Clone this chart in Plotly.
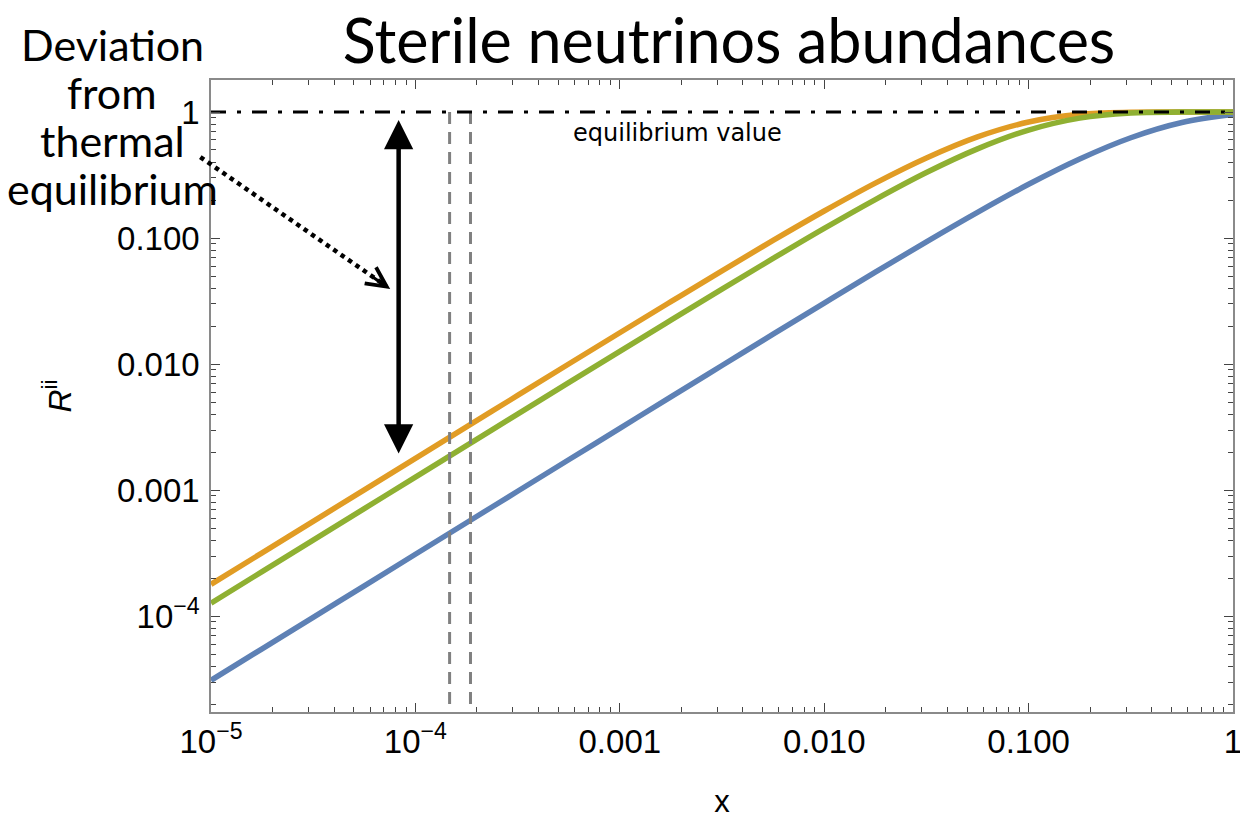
import plotly.graph_objects as go

# ---- data ----
x_vals = [1e-5, 1.778e-5, 3.162e-5, 5.623e-5, 1e-4, 1.778e-4, 3.162e-4, 5.623e-4,
          1e-3, 1.778e-3, 3.162e-3, 5.623e-3, 0.01, 0.01778, 0.03162, 0.05623,
          0.1, 0.1778, 0.3162, 0.5623, 1.0]

r_blue = [3.1e-5, 5.51e-5, 9.80e-5, 1.743e-4, 3.10e-4, 5.51e-4, 9.80e-4, 1.742e-3,
          3.095e-3, 5.50e-3, 9.75e-3, 0.01728, 0.0305, 0.0536, 0.0934, 0.160,
          0.267, 0.424, 0.625, 0.825, 0.955]

r_orange = [1.79e-4, 3.18e-4, 5.66e-4, 1.006e-3, 1.788e-3, 3.178e-3, 5.64e-3, 0.01002,
            0.01774, 0.0313, 0.0550, 0.0958, 0.164, 0.273, 0.432, 0.635,
            0.833, 0.9585, 0.9965, 0.99996, 1.0]

r_green = [1.27e-4, 2.258e-4, 4.016e-4, 7.14e-4, 1.269e-3, 2.255e-3, 4.008e-3, 7.12e-3,
           0.01262, 0.02233, 0.0394, 0.0689, 0.1193, 0.202, 0.331, 0.510,
           0.719, 0.895, 0.982, 0.9992, 1.0]

equilibrium_x = [1e-5, 1.0]
equilibrium_y = [1.0, 1.0]

vline1_x = [1.47e-4, 1.47e-4]
vline2_x = [1.86e-4, 1.86e-4]
vline_y = [1.0, 1e-5]

x_tickvals = [1e-5, 1e-4, 1e-3, 1e-2, 1e-1, 1]
x_ticktext = ["10<sup>\u22125</sup>", "10<sup>\u22124</sup>", "0.001", "0.010", "0.100", "1"]
y_tickvals = [1e-4, 1e-3, 1e-2, 1e-1, 1]
y_ticktext = ["10<sup>\u22124</sup>", "0.001", "0.010", "0.100", "1"]

left_lines = ["Deviation", "from", "thermal", "equilibrium"]

BLUE = "#5E81B5"
ORANGE = "#E19C24"
GREEN = "#8FB032"

fig = go.Figure()
fig.add_trace(go.Scatter(x=x_vals, y=r_blue, mode="lines", line=dict(color=BLUE, width=5.5, shape="spline")))
fig.add_trace(go.Scatter(x=x_vals, y=r_orange, mode="lines", line=dict(color=ORANGE, width=5.5, shape="spline")))
fig.add_trace(go.Scatter(x=x_vals, y=r_green, mode="lines", line=dict(color=GREEN, width=5.5, shape="spline")))
fig.add_trace(go.Scatter(x=vline1_x, y=vline_y, mode="lines",
                         line=dict(color="#808080", width=3, dash="12px,8px")))
fig.add_trace(go.Scatter(x=vline2_x, y=vline_y, mode="lines",
                         line=dict(color="#808080", width=3, dash="12px,8px")))
fig.add_trace(go.Scatter(x=equilibrium_x, y=equilibrium_y, mode="lines",
                         line=dict(color="black", width=3, dash="15px,11px,4px,11px")))

axis_common = dict(
    type="log", showline=True, linecolor="#8a8a8a", linewidth=1.5, mirror="ticks",
    ticks="inside", ticklen=9, tickwidth=1.2, tickcolor="#444444",
    showgrid=False, zeroline=False, ticklabeloverflow="allow", automargin=False,
    tickfont=dict(family="Liberation Sans", size=33, color="black"),
    minor=dict(ticks="inside", ticklen=5, tickwidth=1.0, tickcolor="#444444",
               showgrid=False, dtick="D1"),
)

fig.update_xaxes(**axis_common, range=[-5, 0], tickvals=x_tickvals, ticktext=x_ticktext,
                 title=dict(text="x", font=dict(family="Liberation Sans", size=31, color="black"),
                            standoff=41))
fig.update_yaxes(**axis_common, range=[-4.76, 0.254], tickvals=y_tickvals, ticktext=y_ticktext,
                 ticklabelstandoff=3,
                 title=dict(text="<i>R</i><sup>ii</sup>", font=dict(family="Liberation Sans", size=32, color="black"),
                            standoff=36))

annotations = [
    # double-headed arrow
    dict(x=-4.082, y=-0.063, ax=-4.082, ay=-2.722, xref="x", yref="y", axref="x", ayref="y",
         text="", showarrow=True, arrowhead=2, startarrowhead=2, arrowside="end+start",
         arrowsize=1.3, startarrowsize=1.3, arrowwidth=4.5, arrowcolor="black"),
    # head of dotted arrow
    dict(x=(390 - 210.7) / 1022.6, y=(711.7 - 289) / 631.7, xref="paper", yref="paper",
         ax=-19, ay=-13.2, text="", showarrow=True, arrowhead=5, arrowsize=1.3,
         arrowwidth=3, arrowcolor="black"),
    dict(x=-2.719, y=-0.167, xref="x", yref="y", text="equilibrium value", showarrow=False,
         font=dict(family="DejaVu Sans", size=24, color="black")),
]
line_centres = [45, 92, 140, 188]
for txt, yc in zip(left_lines, line_centres):
    annotations.append(dict(x=(112 - 210.7) / 1022.6, y=(711.7 - yc) / 631.7,
                            xref="paper", yref="paper", text=txt, showarrow=False,
                            xanchor="center", yanchor="middle",
                            font=dict(family="Lato", size=43, color="black")))

shapes = [
    dict(type="line", xref="paper", yref="paper",
         x0=(200 - 210.7) / 1022.6, y0=(711.7 - 157) / 631.7,
         x1=(386 - 210.7) / 1022.6, y1=(711.7 - 286) / 631.7,
         line=dict(color="black", width=4.5, dash="dot")),
]

fig.update_layout(
    width=1240, height=819,
    margin=dict(l=211, r=7, t=80, b=107),
    paper_bgcolor="white", plot_bgcolor="white",
    showlegend=False,
    title=dict(text="Sterile neutrinos abundances", x=729 / 1240, xanchor="center",
               y=1 - 42 / 819, yanchor="middle",
               font=dict(family="Lato", size=61, color="black")),
    annotations=annotations,
    shapes=shapes,
)

fig.write_html("out.html")
